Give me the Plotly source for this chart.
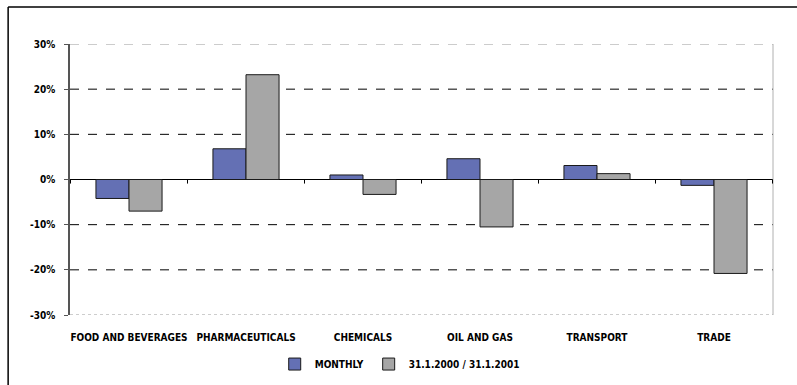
import plotly.graph_objects as go

categories = ["FOOD AND BEVERAGES", "PHARMACEUTICALS", "CHEMICALS", "OIL AND GAS", "TRANSPORT", "TRADE"]
monthly = [-0.042, 0.068, 0.010, 0.046, 0.031, -0.013]
yearly = [-0.070, 0.232, -0.033, -0.105, 0.013, -0.208]
series_names = ["MONTHLY", "31.1.2000 / 31.1.2001"]
tick_vals = [-0.3, -0.2, -0.1, 0.0, 0.1, 0.2, 0.3]
tick_text = ["-30%", "-20%", "-10%", "0%", "10%", "20%", "30%"]

FONT = "Liberation Sans Narrow, DejaVu Sans Condensed, Arial Narrow, sans-serif"

fig = go.Figure()
fig.add_trace(go.Bar(x=categories, y=monthly, name=series_names[0],
                     marker=dict(color="#6470B4", line=dict(color="#1a1a1a", width=1))))
fig.add_trace(go.Bar(x=categories, y=yearly, name=series_names[1],
                     marker=dict(color="#A6A6A6", line=dict(color="#1a1a1a", width=1))))

shapes = []
for v in [-0.2, -0.1, 0.1, 0.2]:
    shapes.append(dict(type="line", xref="paper", yref="y", x0=0, x1=1, y0=v, y1=v,
                       line=dict(color="black", width=1, dash="dash"), layer="below"))
for v in [0.3, -0.3]:
    shapes.append(dict(type="line", xref="paper", yref="y", x0=0, x1=1, y0=v, y1=v,
                       line=dict(color="#9a9a9a", width=1, dash="dash" if v > 0 else "dot"), layer="below"))
shapes.append(dict(type="line", xref="paper", yref="paper", x0=1, x1=1, y0=0, y1=1,
                   line=dict(color="#b0b0b0", width=1)))
for i in range(len(categories) + 1):
    shapes.append(dict(type="line", xref="x", yref="y", x0=i - 0.5, x1=i - 0.5, y0=0, y1=-0.009,
                       line=dict(color="black", width=1)))
shapes.append(dict(type="line", xref="paper", yref="paper", x0=-0.088, x1=1.04, y0=1.1365, y1=1.1365,
                   line=dict(color="black", width=1.5)))
shapes.append(dict(type="line", xref="paper", yref="paper", x0=-0.088, x1=-0.088, y0=1.1365, y1=-0.3,
                   line=dict(color="black", width=1.5)))

fig.update_layout(
    width=797, height=385,
    margin=dict(l=70, r=24, t=44, b=70, autoexpand=False),
    paper_bgcolor="white", plot_bgcolor="white",
    barmode="group", bargap=0.435, bargroupgap=0,
    font=dict(family=FONT, size=10, color="black", weight="bold"),
    showlegend=True,
    legend=dict(orientation="h", x=0.469, xanchor="center", y=-0.181, yanchor="middle",
                bgcolor="rgba(0,0,0,0)",
                font=dict(family=FONT, size=10, color="black", weight="bold"),
                itemwidth=30, traceorder="normal"),
    shapes=shapes,
    xaxis=dict(showgrid=False, showline=False, ticks="outside", ticklen=13, tickcolor="rgba(0,0,0,0)",
               zeroline=False,
               tickfont=dict(family=FONT, size=10, color="black", weight="bold")),
    yaxis=dict(range=[-0.3, 0.3], tickvals=tick_vals, ticktext=tick_text,
               showgrid=False, zeroline=True, zerolinecolor="black", zerolinewidth=1,
               showline=True, linecolor="#555555", linewidth=1.5,
               ticks="outside", ticklen=4, tickcolor="#555555", ticklabelstandoff=7,
               tickfont=dict(family=FONT, size=10, color="black", weight="bold")),
)

fig.write_html("out.html")
